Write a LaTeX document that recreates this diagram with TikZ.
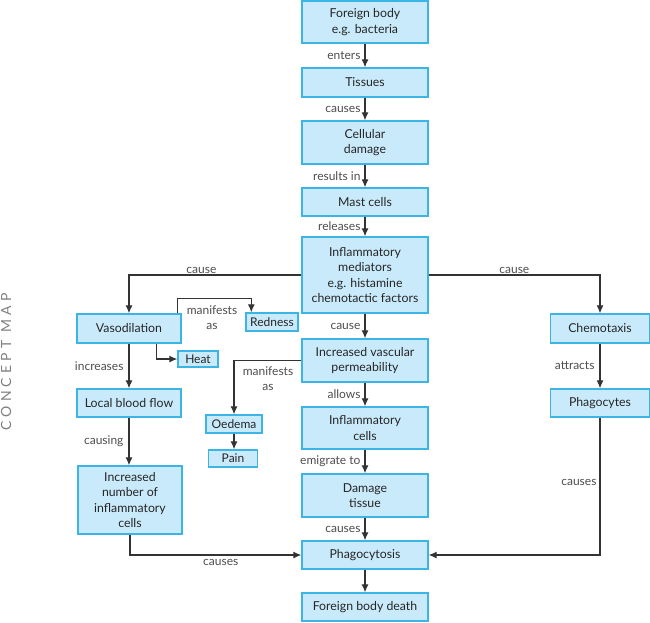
\documentclass[tikz,border=0pt]{standalone}
\usepackage{fontspec}
\setmainfont{Lato}
\usetikzlibrary{arrows.meta}

\definecolor{boxfill}{HTML}{C9EAFA}
\definecolor{boxline}{HTML}{3CB4E6}
\definecolor{linkgray}{HTML}{333333}
\definecolor{lblgray}{HTML}{4D4D4D}
\definecolor{sidegray}{HTML}{808080}

\tikzset{
    box/.style={draw=boxline, fill=boxfill, line width=1.4pt, align=center, inner sep=0pt,
        text=black!85, font=\fontsize{12.3}{15.5}\selectfont},
    mainbox/.style={box, minimum width=126pt},
    sidebox/.style={box, minimum width=104pt},
    tagbox/.style={box, font=\fontsize{12}{13}\selectfont},
    link/.style={draw=linkgray, line width=1.1pt, -{Latex[length=8pt,width=7pt]}},
    lbl/.style={font=\fontsize{12}{15}\selectfont, text=lblgray, inner sep=1pt, align=center}
}

\begin{document}
\begin{tikzpicture}[x=1pt, y=-1pt]
    \useasboundingbox (0,0) rectangle (650,622);

    % centre column
    \node[mainbox, minimum height=42pt] (fb) at (365,22) {Foreign body\\e.g. bacteria};
    \node[mainbox, minimum height=29pt] (tis) at (365,82.5) {Tissues};
    \node[mainbox, minimum height=43pt] (cd) at (365,142.5) {Cellular\\damage};
    \node[mainbox, minimum height=28pt] (mc) at (365,202) {Mast cells};
    \node[mainbox, minimum height=76pt] (im) at (365,275) {Inflammatory\\mediators\\e.g. histamine\\chemotactic factors};
    \node[mainbox, minimum height=43pt] (ivp) at (365,360.5) {Increased vascular\\permeability};
    \node[mainbox, minimum height=42pt] (ic) at (365,428) {Inflammatory\\cells};
    \node[mainbox, minimum height=43pt] (dt) at (365,495.5) {Damage\\tissue};
    \node[mainbox, minimum height=28pt] (ph) at (365,555) {Phagocytosis};
    \node[mainbox, minimum height=28pt] (fbd) at (365,607) {Foreign body death};

    % left column
    \node[sidebox, minimum height=29pt] (vaso) at (129,328.5) {Vasodilation};
    \node[sidebox, minimum height=28pt] (lbf) at (129,403) {Local blood flow};
    \node[sidebox, minimum height=68pt] (inc) at (130,500) {Increased\\number of\\inflammatory\\cells};

    % right column
    \node[box, minimum width=99pt, minimum height=29pt] (chem) at (600,328.5) {Chemotaxis};
    \node[box, minimum width=99pt, minimum height=28pt] (phc) at (600,403) {Phagocytes};

    % small boxes
    \node[tagbox, minimum width=52pt, minimum height=18pt] (red) at (272,322) {Redness};
    \node[tagbox, minimum width=40pt, minimum height=16pt] (heat) at (198,359) {Heat};
    \node[tagbox, minimum width=56pt, minimum height=18pt] (oed) at (234,424) {Oedema};
    \node[tagbox, minimum width=49pt, minimum height=17pt] (pain) at (233,458.5) {Pain};

    \node[rotate=90, text=sidegray, font=\fontsize{14}{14}\selectfont] (side) at (6,362)
        {\addfontfeatures{LetterSpace=30}CONCEPT MAP};

    \foreach \a/\b/\t in {fb/tis/enters, tis/cd/causes, cd/mc/results in, mc/im/releases,
        im/ivp/cause, ivp/ic/allows, ic/dt/emigrate to, dt/ph/causes}
        \draw[link] (\a) -- (\b) node[lbl, midway, left=3pt] (l\a) {\t};
    \draw[link] (ph) -- (fbd);

    \draw[link] (im.west) -| (vaso.north) node[lbl, pos=.29, above=0pt] (lcausel) {cause};
    \draw[link] (im.east) -| (chem.north) node[lbl, pos=.25, above=0pt] (lcauser) {cause};

    \draw[link] ([xshift=-4pt]vaso.north east) -- ++(0,-15) -| ([xshift=6pt]red.north west);
    \node[lbl] (lmanv) at (212,318) {manifests\\as};
    \draw[link] ([xshift=-25pt]vaso.south east) |- (heat.west);

    \draw[link] (ivp.west) -| (oed.north);
    \node[lbl] (lmanp) at (268,379) {manifests\\as};
    \draw[link] (oed.south) -- (oed.south |- pain.north);

    \draw[link] (vaso) -- (lbf) node[lbl, midway, left=4pt] (lincr) {increases};
    \draw[link] (lbf) -- (lbf.south |- inc.north) node[lbl, midway, left=4pt] (lcausing) {causing};
    \draw[link] (chem) -- (phc) node[lbl, midway, left=4pt] (lattr) {attracts};

    \draw[link] (inc.south) |- (ph.west) node[lbl, pos=.765, below=3pt] (lcausesl) {causes};
    \draw[link] (phc.south) |- (ph.east) node[lbl, pos=.235, left=2pt] (lcausesr) {causes};
\end{tikzpicture}
\end{document}
